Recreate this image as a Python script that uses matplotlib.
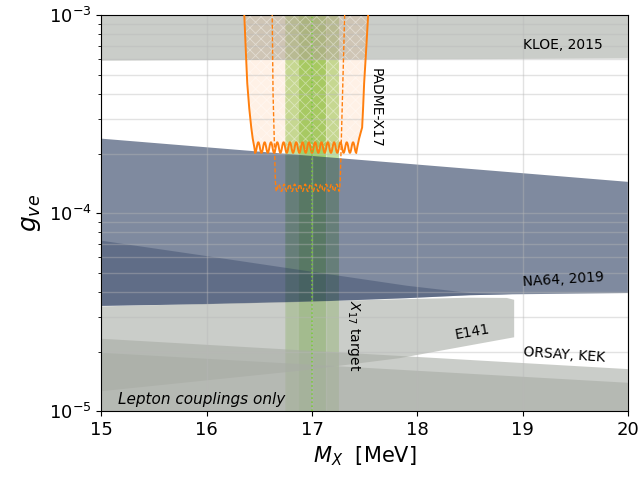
import numpy as np
import matplotlib
matplotlib.use("Agg")
import matplotlib.pyplot as plt
from matplotlib.path import Path
from matplotlib.patches import PathPatch

plt.rcParams['hatch.linewidth'] = 0.6

# ---- data (x in MeV, g dimensionless) ----
kloe_x = [15, 20, 20, 15]
kloe_g = [1.2e-3, 1.2e-3, 6.05e-4, 5.9e-4]

na64_top_x = [15, 20]
na64_top_g = [2.38e-4, 1.44e-4]
na64_bot_x = [15, 16, 17, 17.9, 18.5, 18.9, 20]
na64_bot_g = [3.40e-5, 3.47e-5, 3.57e-5, 3.72e-5, 3.85e-5, 3.89e-5, 3.95e-5]

na64b_top_x = [15, 16, 17, 17.9, 18.5, 18.9]
na64b_top_g = [7.26e-5, 6.07e-5, 5.06e-5, 4.30e-5, 3.95e-5, 3.89e-5]
na64b_bot_g = [3.40e-5, 3.47e-5, 3.57e-5, 3.72e-5, 3.85e-5, 3.89e-5]

e141_x = [15, 17.9, 18.5, 18.85, 18.92, 18.92, 18.31, 17.83, 16.89, 15]
e141_g = [3.38e-5, 3.68e-5, 3.74e-5, 3.73e-5, 3.65e-5, 2.36e-5, 2.06e-5, 1.85e-5, 1.60e-5, 1.26e-5]

orsay_x = [15, 20, 20, 15]
orsay_g = [2.32e-5, 1.63e-5, 5e-6, 5e-6]
kek_x = [15, 20, 20, 15]
kek_g = [1.97e-5, 1.39e-5, 5e-6, 5e-6]

x17_outer = (16.74, 17.26)
x17_inner = (16.87, 17.13)
x17_mass = 17.0

# PADME-X17 sensitivity, solid curve: left wall, wiggly floor, right wall
padme_l_x = [16.35, 16.357, 16.371, 16.385, 16.404, 16.423, 16.437, 16.451]
padme_l_g = [1.2e-3, 1e-3, 6.65e-4, 4.53e-4, 3.38e-4, 2.71e-4, 2.38e-4, 2.17e-4]
padme_w_x = [16.46, 16.49, 16.52, 16.55, 16.58, 16.61, 16.64, 16.67, 16.70, 16.73,
             16.76, 16.79, 16.82, 16.85, 16.88, 16.91, 16.94, 16.97, 17.00, 17.03,
             17.06, 17.09, 17.12, 17.15, 17.18, 17.21, 17.24, 17.27, 17.30, 17.33,
             17.36, 17.39, 17.42]
padme_w_g = [2.02e-4, 2.28e-4, 2.02e-4, 2.28e-4, 2.02e-4, 2.28e-4, 2.02e-4, 2.28e-4, 2.02e-4, 2.28e-4,
             2.02e-4, 2.28e-4, 2.02e-4, 2.28e-4, 2.02e-4, 2.28e-4, 2.02e-4, 2.28e-4, 2.02e-4, 2.28e-4,
             2.02e-4, 2.28e-4, 2.02e-4, 2.28e-4, 2.02e-4, 2.28e-4, 2.02e-4, 2.28e-4, 2.02e-4, 2.28e-4,
             2.02e-4, 2.28e-4, 2.02e-4]
padme_r_x = [17.431, 17.447, 17.462, 17.476, 17.485, 17.495, 17.514, 17.533, 17.54]
padme_r_g = [2.17e-4, 2.38e-4, 2.55e-4, 2.71e-4, 3.38e-4, 4.53e-4, 6.65e-4, 1e-3, 1.2e-3]

# dashed curve
padme2_l_x = [16.62, 16.622, 16.63, 16.645, 16.652]
padme2_l_g = [1.2e-3, 1e-3, 4e-4, 2e-4, 1.45e-4]
padme2_w_x = [16.66, 16.685, 16.71, 16.735, 16.76, 16.785, 16.81, 16.835, 16.86, 16.885,
              16.91, 16.935, 16.96, 16.985, 17.01, 17.035, 17.06, 17.085, 17.11, 17.135,
              17.16, 17.185, 17.21, 17.235, 17.26]
padme2_w_g = [1.29e-4, 1.40e-4, 1.29e-4, 1.40e-4, 1.29e-4, 1.40e-4, 1.29e-4, 1.40e-4, 1.29e-4, 1.40e-4,
              1.29e-4, 1.40e-4, 1.29e-4, 1.40e-4, 1.29e-4, 1.40e-4, 1.29e-4, 1.40e-4, 1.29e-4, 1.40e-4,
              1.29e-4, 1.40e-4, 1.29e-4, 1.40e-4, 1.29e-4]
padme2_r_x = [17.268, 17.275, 17.29, 17.31, 17.312]
padme2_r_g = [1.45e-4, 2e-4, 4e-4, 1e-3, 1.2e-3]


def wall_path(lx, lg, wx, wg, rx, rg, close=False):
    # straight walls, smooth (bezier) wiggles between the floor extrema
    verts = list(zip(lx, lg)) + [(wx[0], wg[0])]
    codes = [Path.MOVETO] + [Path.LINETO] * len(lx)
    for i in range(len(wx) - 1):
        d = (wx[i + 1] - wx[i]) * 0.4
        verts += [(wx[i] + d, wg[i]), (wx[i + 1] - d, wg[i + 1]), (wx[i + 1], wg[i + 1])]
        codes += [Path.CURVE4] * 3
    verts += list(zip(rx, rg))
    codes += [Path.LINETO] * len(rx)
    if close:
        verts.append(verts[0])
        codes.append(Path.CLOSEPOLY)
    return Path(verts, codes)


# ---- figure ----
fig = plt.figure(figsize=(6.42, 4.78), dpi=100)
ax = fig.add_axes([0.158, 0.140, 0.820, 0.828])
ax.set_yscale('log')
ax.set_xlim(15, 20)
ax.set_ylim(1e-5, 1e-3)

green = (0.46, 0.75, 0.18)
ax.axvspan(*x17_outer, color=green, alpha=0.45, lw=0, zorder=0.5)
ax.axvspan(*x17_inner, color=green, alpha=0.45, lw=0, zorder=0.5)
for xv in list(x17_outer) + list(x17_inner):
    ax.axvline(xv, color='white', alpha=0.35, lw=0.9, zorder=0.6)

blue = (0.163, 0.235, 0.373)
ax.fill(na64_top_x + na64_bot_x[::-1], na64_top_g + na64_bot_g[::-1],
        color=blue, alpha=0.6, lw=0, zorder=1)
ax.fill(na64b_top_x + na64b_top_x[::-1], na64b_top_g + na64b_bot_g[::-1],
        color=blue, alpha=0.36, lw=0, zorder=1)

grey = (0.66, 0.673, 0.647)
for xs, gs in [(kloe_x, kloe_g), (e141_x, e141_g), (orsay_x, orsay_g), (kek_x, kek_g)]:
    ax.fill(xs, gs, color=grey, alpha=0.6, lw=0, zorder=1)

orange = '#ff7f0e'
fill_path = wall_path(padme_l_x, padme_l_g, padme_w_x, padme_w_g, padme_r_x, padme_r_g, close=True)
ax.add_patch(PathPatch(fill_path, facecolor=orange, alpha=0.1, lw=0, zorder=1.2))
ax.add_patch(PathPatch(fill_path, facecolor='none', edgecolor=(1, 1, 1, 0.4),
                       hatch='xxx', lw=0, zorder=1.3))
ax.add_patch(PathPatch(wall_path(padme_l_x, padme_l_g, padme_w_x, padme_w_g, padme_r_x, padme_r_g),
                       facecolor='none', edgecolor=orange, lw=1.4, zorder=3))
ax.add_patch(PathPatch(wall_path(padme2_l_x, padme2_l_g, padme2_w_x, padme2_w_g, padme2_r_x, padme2_r_g),
                       facecolor='none', edgecolor=orange, lw=1.0, ls=(0, (3, 1.5)), zorder=3))

ax.axvline(x17_mass, color='#77cc33', lw=1.1, ls=':', zorder=3)

ax.grid(True, which='both', axis='y', color='#b8b8b8', alpha=0.4, lw=1.0)
ax.grid(True, which='major', axis='x', color='#b8b8b8', alpha=0.4, lw=1.0)

ax.tick_params(labelsize=13)
ax.set_xlabel(r'$M_X$  [MeV]', fontsize=15)
ax.set_ylabel(r'$g_{ve}$', fontsize=18)

ax.text(19.0, 7.1e-4, 'KLOE, 2015', fontsize=10, va='center', ha='left')
ax.text(19.0, 4.6e-5, 'NA64, 2019', fontsize=10, va='center', ha='left', rotation=3.5)
ax.text(18.52, 2.52e-5, 'E141', fontsize=10, va='center', ha='center', rotation=10)
ax.text(19.0, 1.93e-5, 'ORSAY, KEK', fontsize=10, va='center', ha='left', rotation=-4)
ax.text(17.6, 3.4e-4, 'PADME-X17', fontsize=10, va='center', ha='center', rotation=-90)
ax.text(17.39, 2.4e-5, r'$X_{17}$ target', fontsize=10, va='center', ha='center', rotation=-90)
ax.text(15.16, 1.15e-5, 'Lepton couplings only', fontsize=11, style='italic',
        va='center', ha='left')

fig.savefig('out.png', dpi=100)
